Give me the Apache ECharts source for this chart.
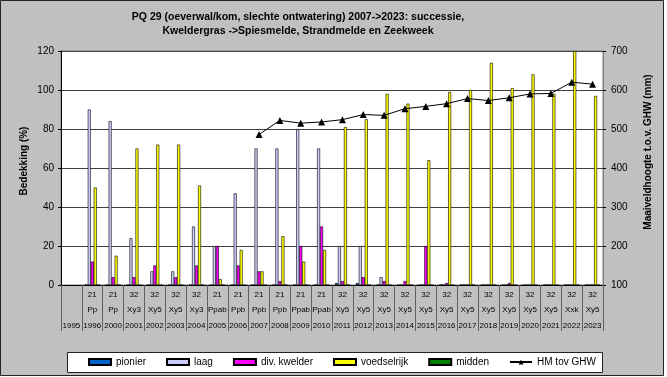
<!DOCTYPE html>
<html><head><meta charset="utf-8">
<script src="https://cdn.jsdelivr.net/npm/echarts@6/dist/echarts.min.js"></script>
<style>html,body{margin:0;padding:0;background:#fff}#c{width:667px;height:377px}</style>
</head><body><div id="c"></div>
<script>
var years = ['1995','1996','2000','2001','2002','2003','2004','2005','2006','2007','2008','2009','2010','2011','2012','2013','2014','2015','2016','2017','2018','2019','2020','2021','2022','2023'];
var codes = ['','21','21','32','32','32','32','21','21','21','21','21','21','32','32','32','32','32','32','32','32','32','32','32','32','32'];
var types = ['','Pp','Pp','Xy3','Xy5','Xy5','Xy3','Ppab','Ppb','Ppb','Ppb','Ppab','Ppab','Xy5','Xy5','Xy5','Xy5','Xy5','Xy5','Xy5','Xy5','Xy5','Xy5','Xy5','Xxk','Xy5'];
var pionier = [null,0,0,0,0,0,0,0,0,0,0,0,0,1,1,0,0,0,0,0,0,0,0,0,0,0];
var laag = [null,90,84,24,7,7,30,20,47,70,70,80,70,20,20,4,0,0,0,0,0,0,0,0,0,0];
var kwelder = [null,12,4,4,10,4,10,20,10,7,2,20,30,2,4,2,2,20,1,0,0,1,0,0,0,0];
var voedselrijk = [null,50,15,70,72,72,51,3,18,7,25,12,18,81,85,98,93,64,99,100,114,101,108,98,120,97];
var midden = [null,0,0,0,0,0,0,0,0,0,0,0,0,0,0,0,0,0,0,0,0,0,0,0,0,0];
var hm = [null,null,null,null,null,null,null,null,null,486,522,515,518,524,537,535,552,558,565,578,573,580,590,591,620,615];
var yLeftTicks = [0,20,40,60,80,100,120];
var yRightTicks = [100,200,300,400,500,600,700];

var FONT = 'Liberation Sans, Arial, sans-serif';
var chart = echarts.init(document.getElementById('c'), null, {renderer:'canvas'});
function barSeries(name, data, color){
  return {name:name, type:'bar', data:data, barWidth:3, barGap:'0%',
    itemStyle:{color:color, borderColor:'#000', borderWidth:0.6}};
}
var option = {
  animation:false,
  backgroundColor:'#fff',
  textStyle:{fontFamily:FONT},
  graphic:[
    {type:'rect', z:-10, shape:{x:0.5,y:0.5,width:663,height:375}, style:{fill:'#c0c0c0', stroke:'#222', lineWidth:1}},
    {type:'rect', z:-5, shape:{x:61,y:51,width:542,height:234}, style:{fill:'#fff', stroke:'#808080', lineWidth:1}},
    {type:'rect', z:-5, shape:{x:67.5,y:352.5,width:535,height:20}, style:{fill:'#fff', stroke:'#222', lineWidth:1}},
    {type:'text', x:24, y:161, rotation:Math.PI/2, style:{text:'Bedekking (%)', fill:'#000', font:'bold 10px '+FONT, textAlign:'center', textVerticalAlign:'middle'}},
    {type:'text', x:648, y:152, rotation:Math.PI/2, style:{text:'Maaiveldhoogte t.o.v. GHW (mm)', fill:'#000', font:'bold 10px '+FONT, textAlign:'center', textVerticalAlign:'middle'}},
    {type:'text', x:298, y:17, style:{text:'PQ 29 (oeverwal/kom, slechte ontwatering) 2007->2023: successie,', fill:'#000', font:'bold 10.5px '+FONT, textAlign:'center', textVerticalAlign:'middle'}},
    {type:'text', x:298, y:31, style:{text:'Kweldergras ->Spiesmelde, Strandmelde en Zeekweek', fill:'#000', font:'bold 10.5px '+FONT, textAlign:'center', textVerticalAlign:'middle'}}
  ],
  legend:{
    left:88, top:357, padding:0, itemWidth:22, itemHeight:6, itemGap:20,
    textStyle:{fontSize:10, color:'#000', fontFamily:FONT},
    data:[{name:'pionier',icon:'rect'},{name:'laag',icon:'rect'},{name:'div. kwelder',icon:'rect'},{name:'voedselrijk',icon:'rect'},{name:'midden',icon:'rect'},{name:'HM tov GHW'}]
  },
  grid:{left:61, right:64, top:51, bottom:92, containLabel:false},
  xAxis:{
    type:'category', data:years,
    axisLine:{lineStyle:{color:'#000', width:1}},
    axisTick:{show:true, interval:0, length:46, lineStyle:{color:'#606060'}},
    axisLabel:{interval:0, margin:2, fontSize:8, lineHeight:15.5, color:'#000', fontFamily:FONT,
      formatter:function(v, i){ return codes[i] + '\n' + types[i] + '\n' + v; }},
    splitLine:{show:false}
  },
  yAxis:[
    {type:'value', min:yLeftTicks[0], max:yLeftTicks[yLeftTicks.length-1], interval:20,
     axisLine:{show:true, lineStyle:{color:'#000'}},
     axisTick:{show:true, length:3, lineStyle:{color:'#000'}},
     axisLabel:{fontSize:10, color:'#000', margin:7, fontFamily:FONT},
     splitLine:{show:true, lineStyle:{color:'#404040', width:1}}},
    {type:'value', min:yRightTicks[0], max:yRightTicks[yRightTicks.length-1], interval:100, position:'right',
     axisLine:{show:true, lineStyle:{color:'#808080'}},
     axisTick:{show:true, length:3, lineStyle:{color:'#000'}},
     axisLabel:{fontSize:10, color:'#000', margin:8, fontFamily:FONT},
     splitLine:{show:false}}
  ],
  series:[
    barSeries('pionier', pionier, '#0066cc'),
    barSeries('laag', laag, '#ccccff'),
    barSeries('div. kwelder', kwelder, '#ff00ff'),
    barSeries('voedselrijk', voedselrijk, '#ffff00'),
    barSeries('midden', midden, '#008000'),
    {name:'HM tov GHW', type:'line', yAxisIndex:1, data:hm, connectNulls:false,
     symbol:'triangle', symbolSize:7, itemStyle:{color:'#000'}, lineStyle:{color:'#000', width:1}}
  ]
};
chart.setOption(option);
</script></body></html>
